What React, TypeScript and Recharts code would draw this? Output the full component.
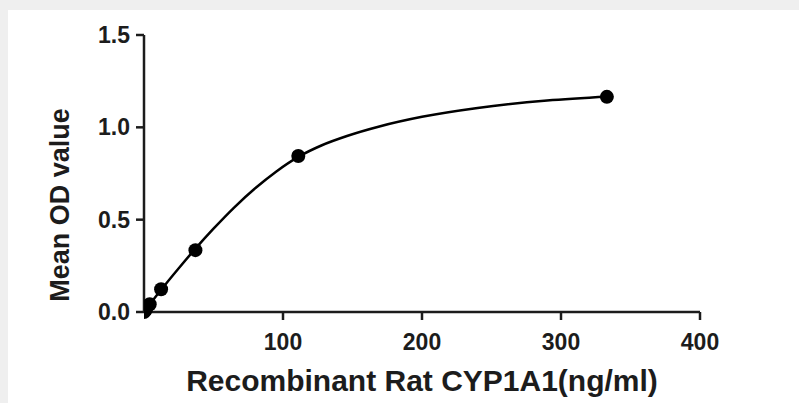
import { ComposedChart, Line, Scatter, XAxis, YAxis, Label } from "recharts"

// measured standards (ng/ml vs mean OD)
const concentrations = [0, 1.37, 4.1, 12.3, 37, 111, 333]
const meanOD = [0, 0.012, 0.042, 0.123, 0.335, 0.845, 1.165]

// fitted curve
const curveX = [0, 12.3, 25, 37, 50, 65, 80, 95, 111, 128, 146, 170, 200, 240, 290, 334]
const curveY = [0, 0.12, 0.237, 0.343, 0.451, 0.567, 0.67, 0.76, 0.84, 0.903, 0.953, 1.006, 1.057, 1.105, 1.145, 1.167]

const xTicks = [100, 200, 300, 400]
const yTicks = [0, 0.5, 1.0, 1.5]

const points = concentrations.map((x, i) => ({ x, y: meanOD[i] }))
const curve = curveX.map((x, i) => ({ x, y: curveY[i] }))

const ink = "#1c1c1c"
const font = "'Liberation Sans', Arial, sans-serif"

const Dot = (props: any) => <circle cx={props.cx} cy={props.cy} r={7} fill="#000" />

export default function App() {
  return <div style={{ position: "fixed", left: 0, top: 0, width: 799, height: 403, background: "#efefef" }}>
      <div style={{ position: "absolute", left: 8, top: 10, width: 791, height: 393, background: "#fff" }}>
        <ComposedChart width={791} height={393} margin={{ top: 25, right: 99, bottom: 0, left: 0 }}>
          <XAxis
            type="number"
            dataKey="x"
            domain={[0, 400]}
            ticks={xTicks}
            allowDataOverflow
            height={91}
            tickSize={8}
            stroke={ink}
            strokeWidth={2.5}
            tick={{ fill: ink, fontSize: 23, fontWeight: "bold", fontFamily: font, dy: 12 }}
          >
            <Label
              content={() => <text x={414} y={381} textAnchor="middle" fill={ink} fontSize={30} fontWeight="bold" fontFamily={font}>
                  Recombinant Rat CYP1A1(ng/ml)
                </text>}
            />
          </XAxis>
          <YAxis
            type="number"
            dataKey="y"
            domain={[0, 1.5]}
            ticks={yTicks}
            width={136}
            tickSize={8}
            stroke={ink}
            strokeWidth={2.5}
            tickFormatter={(v: number) => v.toFixed(1)}
            tick={{ fill: ink, fontSize: 23, fontWeight: "bold", fontFamily: font, dx: -4 }}
          >
            <Label
              content={() => <text x={0} y={0} transform="translate(61 195) rotate(-90)" textAnchor="middle" fill={ink} fontSize={27} fontWeight="bold" fontFamily={font}>
                  Mean OD value
                </text>}
            />
          </YAxis>
          <Line data={curve} dataKey="y" type="monotone" stroke="#000" strokeWidth={2.5} dot={false} isAnimationActive={false} />
          <Scatter data={points} dataKey="y" shape={Dot} isAnimationActive={false} />
        </ComposedChart>
      </div>
    </div>
}
